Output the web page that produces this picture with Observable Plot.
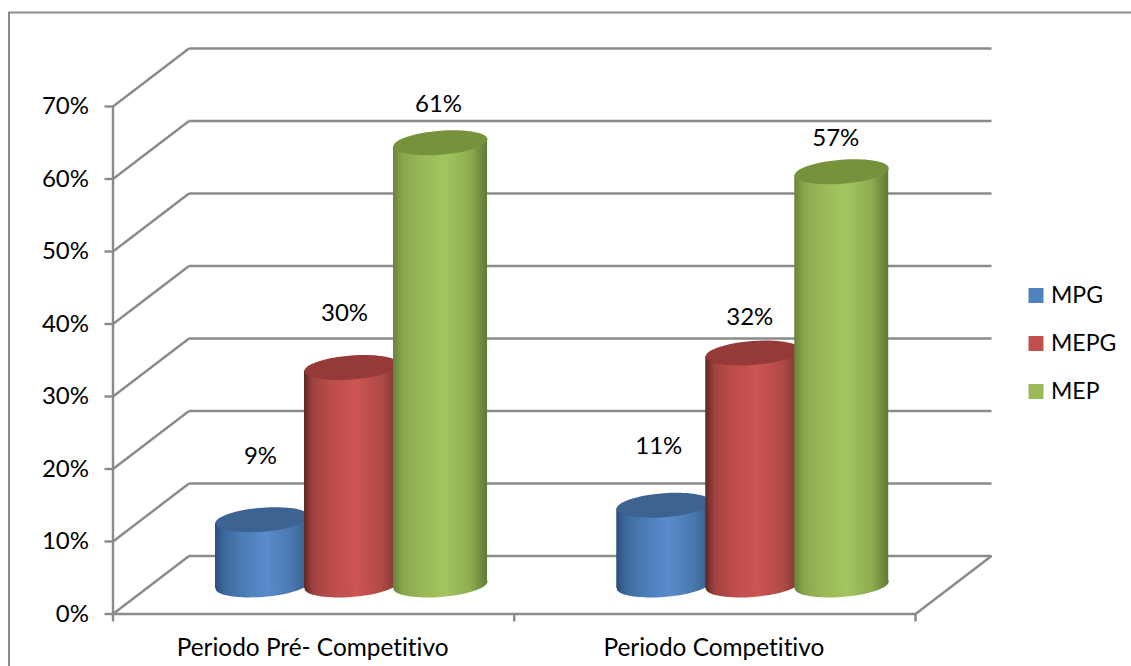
<!DOCTYPE html>
<html>
<head>
<meta charset="utf-8">
<script src="https://cdn.jsdelivr.net/npm/d3@7"></script>
<script src="https://cdn.jsdelivr.net/npm/@observablehq/plot@0.6"></script>
<style>
  html, body { margin: 0; padding: 0; background: #fff; overflow: hidden; }
  svg { display: block; }
  svg text { font-variant-ligatures: none; }
</style>
</head>
<body>
<div id="chart"></div>
<script>
const periods = ["Periodo Pré- Competitivo", "Periodo Competitivo"];
const seriesNames = ["MPG", "MEPG", "MEP"];
const mpg = [0.09, 0.11];
const mepg = [0.30, 0.32];
const mep = [0.61, 0.57];
const seriesValues = [mpg, mepg, mep];
const yTicks = [0, 0.1, 0.2, 0.3, 0.4, 0.5, 0.6, 0.7];

// Series palette: legend swatch, cylinder lid, and horizontal body shading
const swatchColors = ["#4f81bd", "#c0504d", "#9bbb59"];
const lidColors = ["#3c6391", "#953a38", "#76923c"];
const bodyStops = [
  [[0, "#2c4f78"], [0.1, "#3d6a9e"], [0.3, "#4d7db6"], [0.55, "#5a8bcb"], [0.82, "#4a78ae"], [1, "#345c8a"]],
  [[0, "#5c2725"], [0.1, "#a34341"], [0.3, "#bb4d4a"], [0.55, "#cd5453"], [0.82, "#b04a47"], [1, "#7c3432"]],
  [[0, "#66843a"], [0.1, "#89a64d"], [0.3, "#99b858"], [0.55, "#a3c560"], [0.82, "#8fac50"], [1, "#5f7a36"]]
];

const gray = "#8a8a8a";
const font = "Lato, sans-serif";
const fontSize = 24;

// Frame geometry in pixels
const width = 1131, height = 666;
const marginLeft = 112.5, marginRight = 216, marginTop = 106, marginBottom = 52.5;
const pxPerX = (width - marginLeft - marginRight) / 2;
const pxPerY = (height - marginTop - marginBottom) / 0.7;

// Depth of the back wall expressed in scale units
const depthX = 76 / pxPerX, depthY = 58 / pxPerY;

// Cylinders stand halfway into the box
const barLift = -29;
const barRadius = 47, barLidHeight = 12, barTiltPx = 3.5;
const firstSlot = 0.3726, slotStep = 0.2218;
const halfWidth = barRadius / pxPerX, tilt = barTiltPx / pxPerY;

// Sheared ellipse drawn as a dot symbol, so its box is exactly as wide as the body
const ellipseSymbol = {
  draw(ctx, size) {
    const a = Math.sqrt(size / Math.PI), b = a * barLidHeight / barRadius;
    const s = -barTiltPx / barRadius, k = 0.5522847;
    const p = (x, y) => [x * a, y * b + s * x * a];
    ctx.moveTo(...p(1, 0));
    ctx.bezierCurveTo(...p(1, k), ...p(k, 1), ...p(0, 1));
    ctx.bezierCurveTo(...p(-k, 1), ...p(-1, k), ...p(-1, 0));
    ctx.bezierCurveTo(...p(-1, -k), ...p(-k, -1), ...p(0, -1));
    ctx.bezierCurveTo(...p(k, -1), ...p(1, -k), ...p(1, 0));
    ctx.closePath();
  }
};

// Data label placement relative to the value, [dx, dy] in pixels per series and period
const labelShift = [
  [[-2, -92], [-5, -88]],
  [[-7, -83], [-3, -64.5]],
  [[-2, -67], [-6, -62]]
];

// Legend rows: vertical position of each swatch centre below the frame origin
const legendX = 1035.5 - marginLeft, legendRows = [295 - marginTop, 343 - marginTop, 391 - marginTop];

const gradients = () => {
  const defs = d3.create("svg:defs");
  bodyStops.forEach((stops, i) => {
    const g = defs.append("linearGradient").attr("id", `body-${i}`)
      .attr("x1", 0).attr("x2", 1).attr("y1", 0).attr("y2", 0);
    stops.forEach(([o, c]) => g.append("stop").attr("offset", o).attr("stop-color", c));
  });
  return defs.node();
};

// One cylinder group per series, painted in order so later series overlap earlier ones
const cylinderMarks = seriesNames.flatMap((name, si) => {
  const bars = periods.map((period, pi) => ({
    period, x: pi + firstSlot + si * slotStep, value: seriesValues[si][pi]
  }));
  // Side walls run from the left tip to the right tip of the tilted ellipses
  const sides = bars.flatMap(b => [
    {period: b.period, x: b.x - halfWidth, y1: -tilt, y2: b.value - tilt},
    {period: b.period, x: b.x + halfWidth, y1: tilt, y2: b.value + tilt}
  ]);
  const fill = `url(#body-${si})`;
  return [
    Plot.dot(bars, {x: "x", y: () => 0, r: barRadius, symbol: ellipseSymbol, fill, stroke: "none", dy: barLift}),
    Plot.areaY(sides, {x: "x", y1: "y1", y2: "y2", z: "period", fill, dy: barLift}),
    Plot.dot(bars, {x: "x", y: "value", r: barRadius, symbol: ellipseSymbol, fill: lidColors[si], stroke: "none", dy: barLift})
  ];
});

const labelMarks = seriesNames.flatMap((name, si) => periods.map((period, pi) =>
  Plot.text([seriesValues[si][pi]], {
    x: () => pi + firstSlot + si * slotStep,
    y: d => d,
    text: d3.format(".0%"),
    dx: labelShift[si][pi][0],
    dy: labelShift[si][pi][1],
    fill: "#000"
  })
));

const legendMarks = seriesNames.flatMap((name, si) => [
  Plot.dot([name], {
    frameAnchor: "top-left", dx: legendX, dy: legendRows[si],
    symbol: "square", r: 15 / Math.sqrt(Math.PI), fill: swatchColors[si], stroke: "none"
  }),
  Plot.text([name], {
    frameAnchor: "top-left", dx: legendX + 15, dy: legendRows[si],
    text: d => d, textAnchor: "start", lineAnchor: "middle", fontSize: 23, fill: "#000"
  })
]);

const wall = {stroke: gray, strokeWidth: 2.4};

const chart = Plot.plot({
  width, height, marginLeft, marginRight, marginTop, marginBottom,
  style: {fontFamily: font, fontSize: `${fontSize}px`, background: "#fff", color: "#000"},
  x: {domain: [0, 2]},
  y: {domain: [0, 0.7]},
  marks: [
    gradients,
    // Outer border: only its top and left edges fall inside the picture
    Plot.frame({stroke: gray, strokeWidth: 2, insetLeft: -104, insetTop: -94, insetRight: -240, insetBottom: -80}),
    // Side wall diagonals and back wall gridlines
    Plot.link(yTicks, {x1: () => 0, y1: d => d, x2: () => depthX, y2: d => d + depthY, ...wall}),
    Plot.link(yTicks, {x1: () => depthX, y1: d => d + depthY, x2: () => 2 + depthX, y2: d => d + depthY, ...wall}),
    // Floor edge on the right
    Plot.link([0], {x1: () => 2, y1: d => d, x2: () => 2 + depthX, y2: d => d + depthY, ...wall}),
    // Front axis lines
    Plot.ruleX([0], {y1: 0, y2: 0.7, ...wall}),
    Plot.ruleY([0], {x1: 0, x2: 2, ...wall}),
    Plot.axisY({
      ticks: yTicks, tickFormat: d3.format(".0%"), tickSize: 8, tickPadding: 16, textStroke: "none",
      stroke: gray, strokeWidth: 2.4, fill: "#000", label: null, dy: 0
    }),
    Plot.axisX({ticks: [0, 1, 2], tickFormat: () => "", tickSize: 8, stroke: gray, strokeWidth: 2.4, label: null}),
    Plot.axisX({
      ticks: [0.5, 1.5], tickFormat: d => periods[Math.floor(d)], tickSize: 0, tickPadding: 25, fontSize: 24.4,
      fill: "#000", label: null, dx: -1
    }),
    ...cylinderMarks,
    ...labelMarks,
    ...legendMarks
  ]
});

document.getElementById("chart").appendChild(chart);
</script>
</body>
</html>
